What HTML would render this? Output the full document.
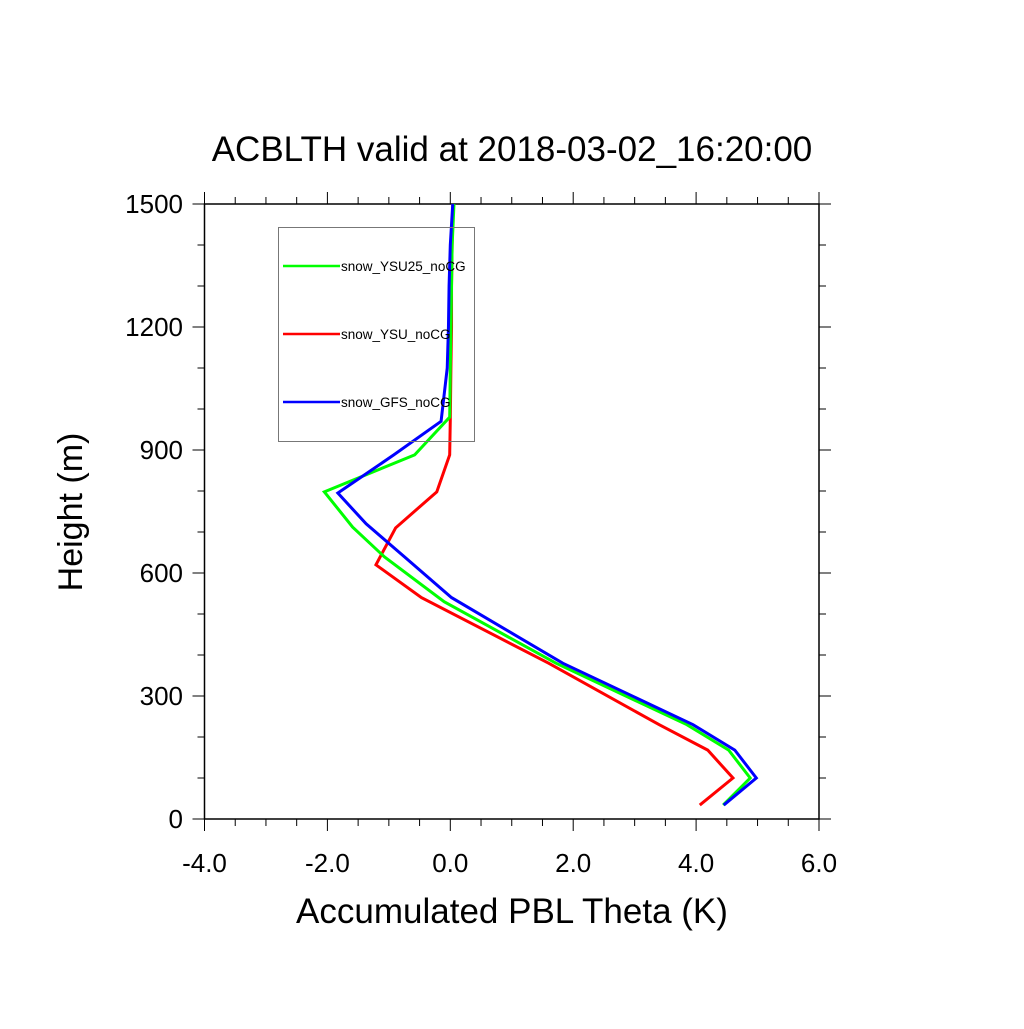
<!DOCTYPE html>
<html><head><meta charset="utf-8"><style>body{margin:0;background:#fff}svg text{font-family:"Liberation Sans",sans-serif}</style></head>
<body>
<svg id="chart" width="1024" height="1024">
<text x="512" y="161" font-size="35" text-anchor="middle">ACBLTH valid at 2018-03-02_16:20:00</text>
<g id="axes"></g>
<g id="series"></g>
<text x="512" y="923" font-size="35" text-anchor="middle">Accumulated PBL Theta (K)</text>
<text transform="translate(82,512) rotate(-90)" font-size="34" text-anchor="middle">Height (m)</text>
<g>
<rect x="278.5" y="227.5" width="196" height="214" fill="none" stroke="#777" stroke-width="1"/>
<line x1="283" y1="266" x2="340" y2="266" stroke="#00ff00" stroke-width="2.5"/>
<text x="341" y="271" font-size="13.5">snow_YSU25_noCG</text>
<line x1="283" y1="334" x2="340" y2="334" stroke="#ff0000" stroke-width="2.5"/>
<text x="341" y="339" font-size="13.5">snow_YSU_noCG</text>
<line x1="283" y1="402" x2="340" y2="402" stroke="#0000ff" stroke-width="2.5"/>
<text x="341" y="407" font-size="13.5">snow_GFS_noCG</text>
</g>
</svg>
<script>
const heights=[34,100,168,230,380,540,620,710,798,888,975,1100,1200,1300,1400,1500];
const ysuVals=[4.06,4.6,4.19,3.4,1.6,-0.47,-1.21,-0.89,-0.22,-0.01,0.0,0.01,0.02,0.02,0.03,0.04];
const gfsHeights=[34,100,168,230,380,540,640,720,795,888,970,1100,1200,1300,1400,1500];
const gfsVals=[4.45,4.98,4.63,3.95,1.83,0.02,-0.75,-1.37,-1.83,-0.92,-0.15,-0.05,-0.03,-0.02,0.0,0.04];
const ysu25Heights=[34,100,168,230,380,530,639,712,798,888,980,1100,1200,1300,1400,1500];
const ysu25Vals=[4.44,4.88,4.53,3.85,1.72,-0.1,-1.07,-1.59,-2.05,-0.58,-0.01,0.0,0.01,0.02,0.03,0.06];
const xTicks=["-4.0","-2.0","0.0","2.0","4.0","6.0"];
const yTicks=["0","300","600","900","1200","1500"];
const X0=204.5,X1=819,Y0=819,Y1=204;
const sx=v=>X0+(v+4)/10*(X1-X0);
const sy=v=>Y0-v/1500*(Y0-Y1);
const NS="http://www.w3.org/2000/svg";
const ax=document.getElementById('axes'),se=document.getElementById('series');
function mk(t,a,p){const e=document.createElementNS(NS,t);for(const k in a)e.setAttribute(k,a[k]);p.appendChild(e);return e;}
const fr=mk('rect',{x:X0,y:Y1,width:X1-X0,height:Y0-Y1,fill:'none',stroke:'#000','stroke-width':1.5},ax);


for(let v=-4;v<=6.001;v+=0.5){const maj=Math.abs(v%2)<1e-6,L=maj?12:7,x=sx(v);
 const t1=mk('line',{x1:x,y1:Y0,x2:x,y2:Y0+L,stroke:'#000','stroke-width':1},ax);
 
 
 const t2=mk('line',{x1:x,y1:Y1,x2:x,y2:Y1-L,stroke:'#000','stroke-width':1},ax);
 
 }
xTicks.forEach(s=>{const t=mk('text',{x:sx(parseFloat(s)),y:872,'font-size':26,'text-anchor':'middle'},ax);t.textContent=s;
 
 });
for(let v=0;v<=1500;v+=100){const maj=v%300===0,L=maj?12:7,y=sy(v);
 const t1=mk('line',{x1:X0,y1:y,x2:X0-L,y2:y,stroke:'#000','stroke-width':1},ax);
 
 
 const t2=mk('line',{x1:X1,y1:y,x2:X1+L,y2:y,stroke:'#000','stroke-width':1},ax);
 
 }
yTicks.forEach(s=>{const t=mk('text',{x:183,y:sy(parseFloat(s))+9,'font-size':26,'text-anchor':'end'},ax);t.textContent=s;
 
 });
function line(hs,vs,c,n){const p=mk('polyline',{points:hs.map((h,i)=>sx(vs[i])+','+sy(h)).join(' '),fill:'none',stroke:c,'stroke-width':3,'stroke-linejoin':'miter'},se);
 
 }
line(heights,ysuVals,'#ff0000','line-snow-ysu-nocg');
line(ysu25Heights,ysu25Vals,'#00ff00','line-snow-ysu25-nocg');
line(gfsHeights,gfsVals,'#0000ff','line-snow-gfs-nocg');
</script>
</body></html>
